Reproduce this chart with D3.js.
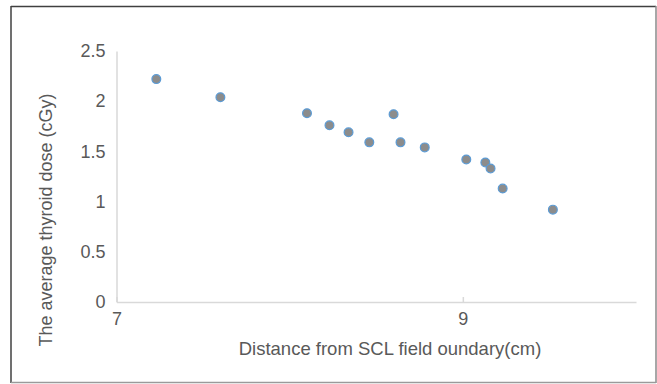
<!DOCTYPE html>
<html>
<head>
<meta charset="utf-8">
<script src="https://cdn.jsdelivr.net/npm/d3@7"></script>
<style>
  body { margin: 0; background: #fff; }
  svg text { font-family: "Liberation Sans", Arial, sans-serif; fill: #595959; }
</style>
</head>
<body>
<div id="chart"></div>
<script>
// distance (cm) and average thyroid dose (cGy)
var distance = [7.23, 7.60, 8.10, 8.23, 8.34, 8.46, 8.60, 8.64, 8.78, 9.02, 9.13, 9.16, 9.23, 9.52];
var dose = [2.22, 2.04, 1.88, 1.76, 1.69, 1.59, 1.87, 1.59, 1.54, 1.42, 1.39, 1.33, 1.13, 0.92];
var xTicks = [7, 9];
var yTicks = [0, 0.5, 1, 1.5, 2, 2.5];

var width = 657;
var height = 384;

var x = d3.scaleLinear()
  .domain([7, 10])
  .range([116.5, 636]);

var y = d3.scaleLinear()
  .domain([0, 2.5])
  .range([302, 51]);

var svg = d3.select('#chart')
  .append('svg')
  .attr('width', width)
  .attr('height', height);

// frame round the chart
svg.append('line').attr('x1', 11).attr('y1', 6.5).attr('x2', 656).attr('y2', 6.5)
  .attr('stroke', '#404040').attr('stroke-width', 1.5);
svg.append('line').attr('x1', 11).attr('y1', 6).attr('x2', 11).attr('y2', 383)
  .attr('stroke', '#404040').attr('stroke-width', 1.5);
svg.append('line').attr('x1', 656).attr('y1', 6).attr('x2', 656).attr('y2', 383)
  .attr('stroke', '#8a8a8a').attr('stroke-width', 1.5);
svg.append('line').attr('x1', 11).attr('y1', 382.5).attr('x2', 656).attr('y2', 382.5)
  .attr('stroke', '#9a9a9a').attr('stroke-width', 1.5);

var fmt = function(d) { return d3.format('')(d); };

// y axis
var yAxis = svg.append('g')
  .attr('transform', 'translate(' + x(7) + ',0)')
  .call(d3.axisLeft(y).tickValues(yTicks).tickSize(0).tickPadding(11).tickFormat(fmt));
yAxis.select('.domain').attr('stroke', '#d9d9d9').attr('stroke-width', 1.5);
yAxis.selectAll('text').attr('font-size', 18).attr('fill', '#595959')
  .style('font-family', '"Liberation Sans", Arial, sans-serif');

// x axis, ticks point up into the plot
var xAxis = svg.append('g')
  .attr('transform', 'translate(0,' + y(0) + ')')
  .call(d3.axisBottom(x).tickValues(xTicks).tickSizeInner(-5).tickSizeOuter(0).tickPadding(10).tickFormat(fmt));
xAxis.select('.domain').attr('stroke', '#d9d9d9').attr('stroke-width', 1.5);
xAxis.selectAll('.tick line').attr('stroke', '#d9d9d9').attr('stroke-width', 1.5);
xAxis.selectAll('text').attr('font-size', 18).attr('fill', '#595959')
  .style('font-family', '"Liberation Sans", Arial, sans-serif');

// points
svg.selectAll('circle')
  .data(distance)
  .enter()
  .append('circle')
  .attr('cx', function(d) { return x(d); })
  .attr('cy', function(d, i) { return y(dose[i]); })
  .attr('r', 4.4)
  .attr('fill', '#8c8c8c')
  .attr('stroke', '#5b9bd5')
  .attr('stroke-width', 1.2);

// axis titles
svg.append('text')
  .attr('x', 390)
  .attr('y', 355)
  .attr('text-anchor', 'middle')
  .attr('font-size', 18.5)
  .text('Distance from SCL field oundary(cm)');

svg.append('text')
  .attr('transform', 'translate(52,220) rotate(-90)')
  .attr('text-anchor', 'middle')
  .attr('font-size', 18)
  .text('The average thyroid dose (cGy)');
</script>
</body>
</html>
